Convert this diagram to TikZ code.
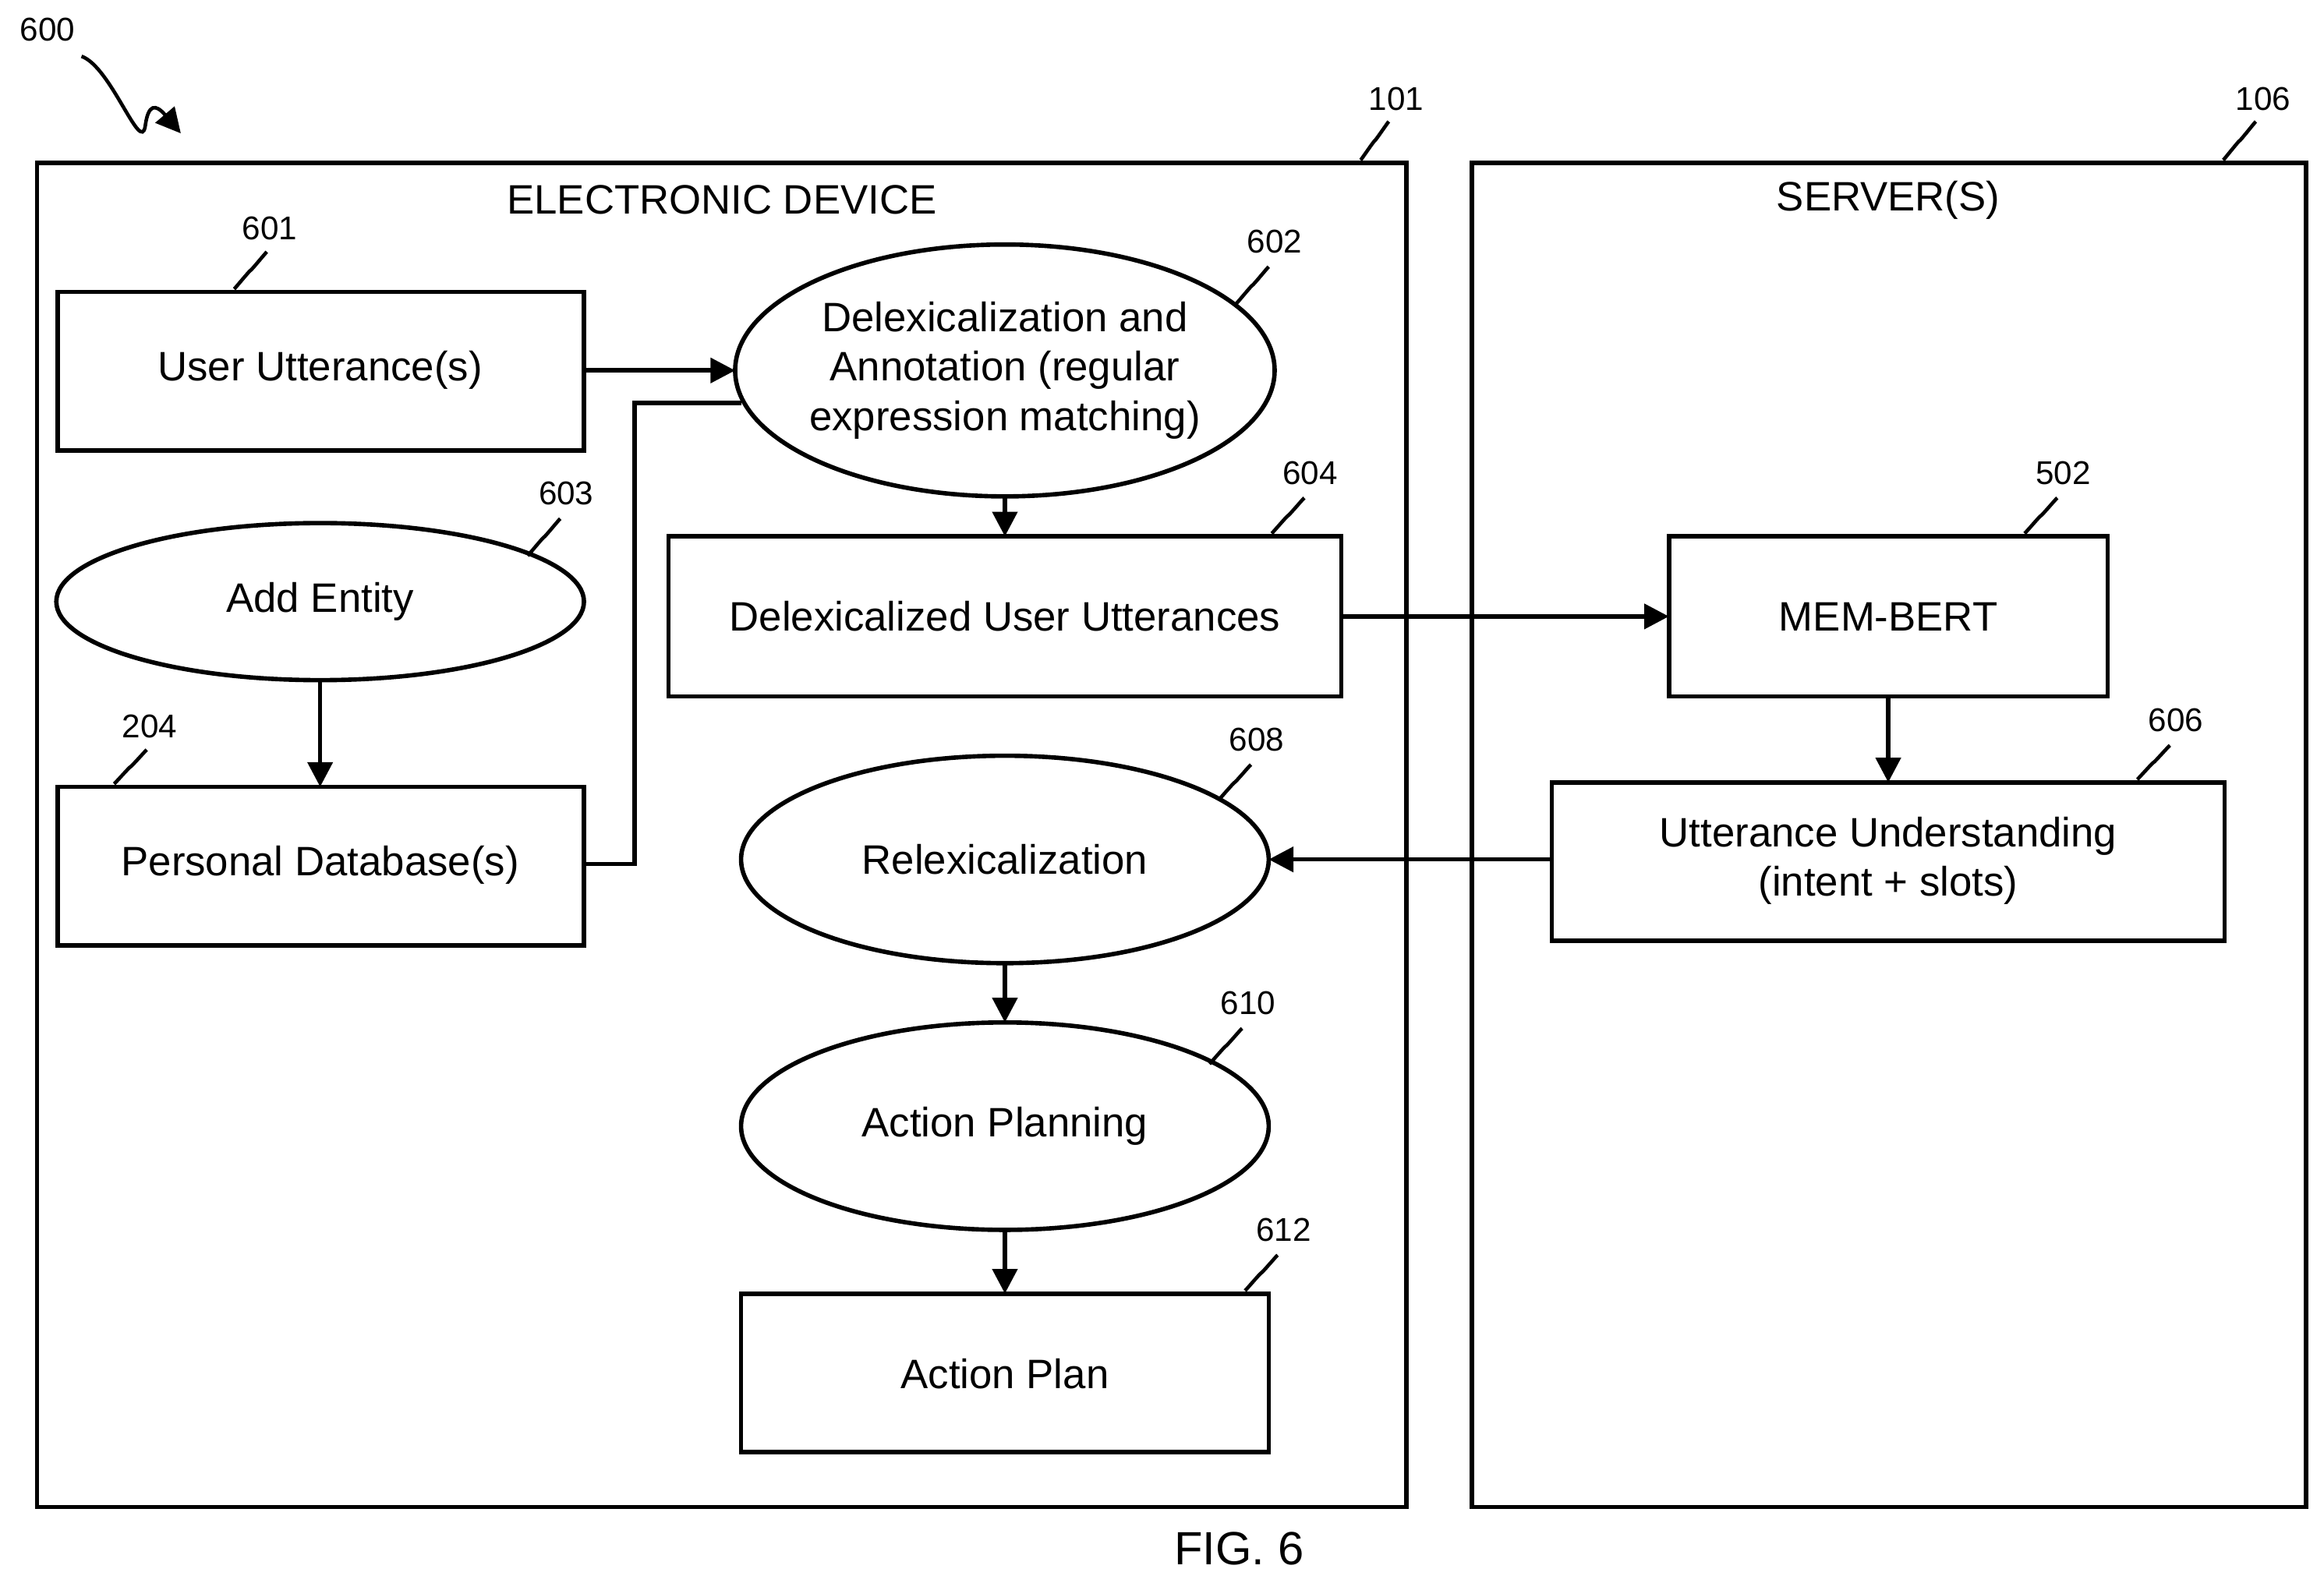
\documentclass[tikz,border=0pt]{standalone}
\usepackage{fontspec}
\setmainfont{Liberation Sans}
\usetikzlibrary{shapes.geometric,arrows.meta}
\tikzset{
  box/.style={draw, line width=1.6pt, minimum width=#1},
  oval/.style={draw, ellipse, line width=1.6pt, align=center},
  txt/.style={font=\fontsize{15}{18}\selectfont, align=center},
  num/.style={font=\fontsize{12}{14}\selectfont},
  lead/.style={line width=1.3pt},
  arr/.style={-{Triangle[length=9pt,width=9pt]}, line width=1.6pt}
}
\newcommand{\leadto}[2]{\draw[lead] (#1) .. controls +(-0.25,-0.05) and +(0.35,0.2) .. ($(#1)!0.5!(#2)$) .. controls +(-0.35,-0.2) and +(0.25,0.05) .. (#2);}
\usetikzlibrary{calc}
\begin{document}
\begin{tikzpicture}[x=0.019cm, y=-0.019cm]
    \useasboundingbox (0,0) rectangle (1568,1068);

    % Frames
    \draw[line width=1.6pt] (25,110) rectangle (949,1017);
    \draw[line width=1.6pt] (993,110) rectangle (1556,1017);
    \node[txt] (devt) at (487,135) {ELECTRONIC DEVICE};
    \node[txt] (srvt) at (1274,135) {SERVER(S)};

    % Boxes
    \draw[line width=1.6pt] (39,197) rectangle (394,304);
    \node[txt] (utt) at (216,250) {User Utterance(s)};
    \draw[line width=1.6pt] (39,531) rectangle (394,638);
    \node[txt] (pdb) at (216,584) {Personal Database(s)};
    \draw[line width=1.6pt] (451,362) rectangle (905,470);
    \node[txt] (dlu) at (678,416) {Delexicalized User Utterances};
    \draw[line width=1.6pt] (1126,362) rectangle (1422,470);
    \node[txt] (mem) at (1274,416) {MEM-BERT};
    \draw[line width=1.6pt] (1047,528) rectangle (1501,635);
    \node[txt] (und) at (1274,581) {Utterance Understanding\\(intent + slots)};
    \draw[line width=1.6pt] (500,873) rectangle (856,980);
    \node[txt] (plan) at (678,927) {Action Plan};

    % Ellipses
    \draw[line width=1.6pt] (678,250) ellipse (182 and 85);
    \node[txt] (dlx) at (678,250) {Delexicalization and\\Annotation (regular\\expression matching)};
    \draw[line width=1.6pt] (216,406) ellipse (178 and 53);
    \node[txt] (add) at (216,406) {Add Entity};
    \draw[line width=1.6pt] (678,580) ellipse (178 and 70);
    \node[txt] (rlx) at (678,580) {Relexicalization};
    \draw[line width=1.6pt] (678,760) ellipse (178 and 70);
    \node[txt] (apl) at (678,760) {Action Planning};

    % Connectors
    \coordinate (uttE) at (394,250);
    \coordinate (dlxW) at (496,250);
    \draw[arr] (uttE) -- (dlxW);
    \coordinate (pdbE) at (394,583);
    \coordinate (dlxSW) at (500,272);
    \draw[line width=1.6pt] (pdbE) -- (428,583) -- (428,272) -- (dlxSW);
    \coordinate (dlxS) at (678,335);
    \coordinate (dluN) at (678,362);
    \draw[arr] (dlxS) -- (dluN);
    \coordinate (addS) at (216,459);
    \coordinate (pdbN) at (216,531);
    \draw[arr] (addS) -- (pdbN);
    \coordinate (dluE) at (905,416);
    \coordinate (memW) at (1126,416);
    \draw[arr] (dluE) -- (memW);
    \coordinate (memS) at (1274,470);
    \coordinate (undN) at (1274,528);
    \draw[arr] (memS) -- (undN);
    \coordinate (undW) at (1047,580);
    \coordinate (rlxE) at (856,580);
    \draw[arr] (undW) -- (rlxE);
    \coordinate (rlxS) at (678,650);
    \coordinate (aplN) at (678,690);
    \draw[arr] (rlxS) -- (aplN);
    \coordinate (aplS) at (678,830);
    \coordinate (planN) at (678,873);
    \draw[arr] (aplS) -- (planN);

    % Reference numerals
    \node[num] (n600) at (32,20) {600};
    \coordinate (s0) at (55,38);
    \coordinate (s1) at (122,90);
    \draw[arr, line width=1.3pt] (s0) .. controls (75,45) and (95,105) .. (98,85) .. controls (100,70) and (105,70) .. (s1);
    \node[num] (n101) at (942,67) {101};
    \leadto{937,82}{918,108}
    \node[num] (n106) at (1527,67) {106};
    \leadto{1522,82}{1500,108}
    \node[num] (n601) at (182,154) {601};
    \leadto{180,170}{158,195}
    \node[num] (n602) at (860,163) {602};
    \leadto{856,180}{834,205}
    \node[num] (n603) at (382,333) {603};
    \leadto{378,350}{356,375}
    \node[num] (n604) at (884,319) {604};
    \leadto{880,336}{858,360}
    \node[num] (n502) at (1392,319) {502};
    \leadto{1388,336}{1366,360}
    \node[num] (n606) at (1468,486) {606};
    \leadto{1464,503}{1442,526}
    \node[num] (n204) at (101,490) {204};
    \leadto{99,506}{77,529}
    \node[num] (n608) at (848,499) {608};
    \leadto{844,516}{822,540}
    \node[num] (n610) at (842,677) {610};
    \leadto{838,694}{816,718}
    \node[num] (n612) at (866,830) {612};
    \leadto{862,847}{840,871}

    \node[font=\fontsize{17}{20}\selectfont] (fig) at (836,1045) {FIG. 6};
\end{tikzpicture}
\end{document}
